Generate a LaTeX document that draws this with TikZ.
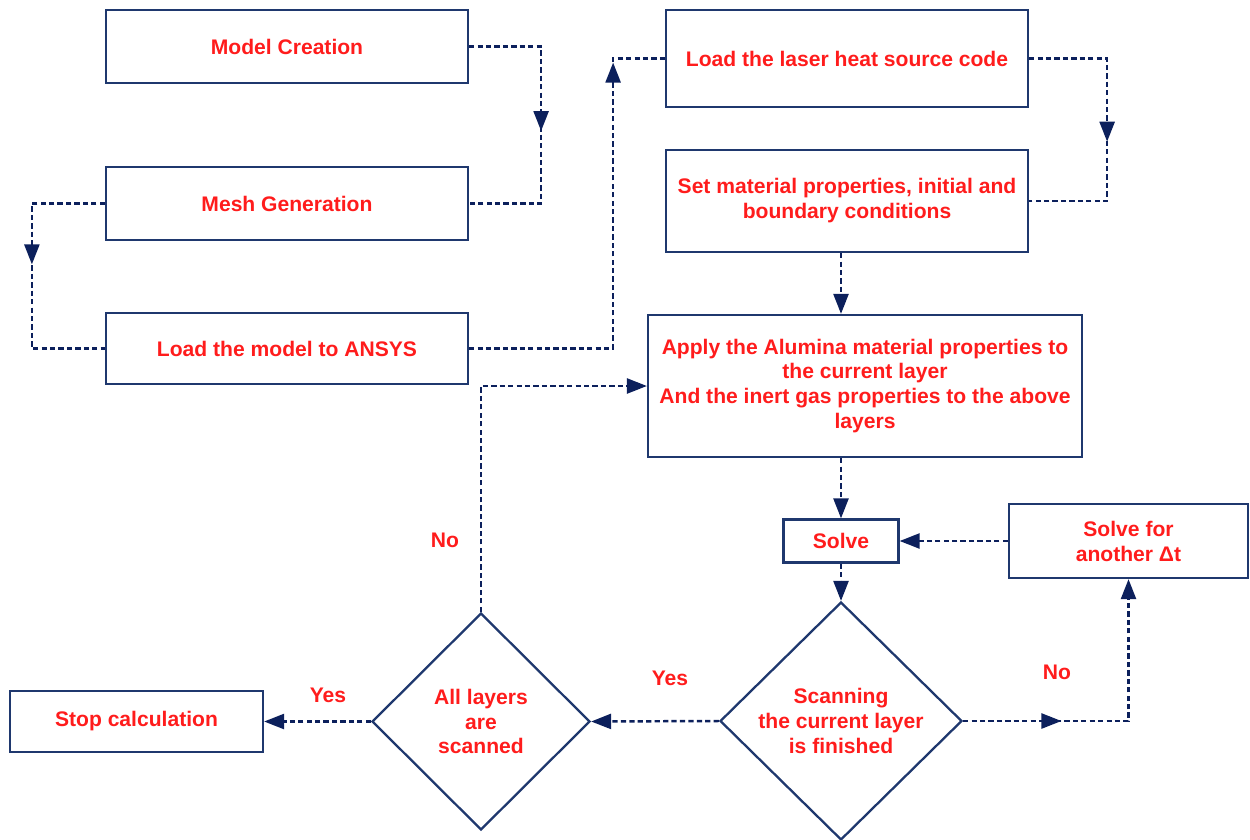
\documentclass[tikz,border=0pt]{standalone}
\usepackage{fontspec}
\setmainfont{Liberation Sans}
\usetikzlibrary{arrows.meta, positioning, shapes.geometric, decorations.markings}
\definecolor{boxnavy}{RGB}{31,56,110}
\definecolor{flownavy}{RGB}{12,32,92}
\definecolor{txtred}{RGB}{255,28,28}

\begin{document}
\begin{tikzpicture}[x=0.02cm, y=-0.02cm,
    box/.style={draw=boxnavy, line width=1.3pt, minimum width=7.24cm, minimum height=1.46cm,
        align=center, text=txtred, font=\fontsize{12}{14.2}\selectfont\bfseries},
    decision/.style={box, diamond, inner sep=0pt},
    flow/.style={color=flownavy, line width=1.4pt, dash pattern=on 3pt off 1.8pt},
    >={Triangle[length=0.4cm, width=0.3cm]},
    midtip/.style={postaction={decorate}, decoration={markings,
        mark=at position #1 with {\arrow{Triangle[length=0.4cm, width=0.3cm]}}}},
    lbl/.style={text=txtred, font=\fontsize{12}{14.2}\selectfont\bfseries}
]
    \useasboundingbox (0,0) rectangle (1250,839);

    \node[box] (mc) at (287,46.5) {Model Creation};
    \node[box] (mg) at (287,203.5) {Mesh Generation};
    \node[box, minimum height=1.42cm] (lm) at (287,348.5) {Load the model to ANSYS};
    \node[box, minimum height=1.94cm] (ls) at (847,58.5) {Load the laser heat source code};
    \node[box, minimum height=2.04cm] (sm) at (847,201) {Set material properties, initial and\\boundary conditions};
    \node[box, minimum width=8.68cm, minimum height=2.84cm] (ap) at (865,386)
        {Apply the Alumina material properties to\\the current layer\\And the inert gas properties to the above\\layers};
    \node[box, minimum width=2.3cm, minimum height=0.86cm] (sv) at (841,541) {Solve};
    \node[box, minimum width=4.78cm, minimum height=1.48cm] (dt) at (1128.5,541) {Solve for\\another Δt};
    \node[decision, minimum width=4.84cm, minimum height=4.76cm] (d1) at (841,721) {Scanning\\the current layer\\is finished};
    \node[decision, minimum width=4.36cm, minimum height=4.34cm] (d2) at (481,721.5) {All layers\\are\\scanned};
    \node[box, minimum width=5.06cm, minimum height=1.22cm] (st) at (136.5,721.5) {Stop calculation};

    \node[lbl] (no1) at (445,540) {No};
    \node[lbl] (yes1) at (670,678) {Yes};
    \node[lbl] (no2) at (1057,672) {No};
    \node[lbl] (yes2) at (328,695) {Yes};

    \draw[flow, midtip=0.52] (mc.east) -- ++(72,0) |- (mg.east);
    \draw[flow, midtip=0.46] (mg.west) -- ++(-73,0) |- (lm.west);
    \draw[flow, midtip=0.885] (lm.east) -- ++(144,0) |- (ls.west);
    \draw[flow, midtip=0.54] (ls.east) -- ++(78,0) |- (sm.east);
    \draw[flow, ->] (sm.south -| sv) -- (ap.north -| sv);
    \draw[flow, ->] (ap.south -| sv) -- (sv.north);
    \draw[flow, ->] (sv.south) -- (d1.north);
    \draw[flow, ->, midtip=0.32] (d1.east) -| (dt.south);
    \draw[flow, ->] (dt.west) -- (sv.east);
    \draw[flow, ->] (d1.west) -- (d2.east);
    \draw[flow, ->] (d2.west) -- (st.east);
    \draw[flow, ->] (d2.north) |- (ap.west);
\end{tikzpicture}
\end{document}
